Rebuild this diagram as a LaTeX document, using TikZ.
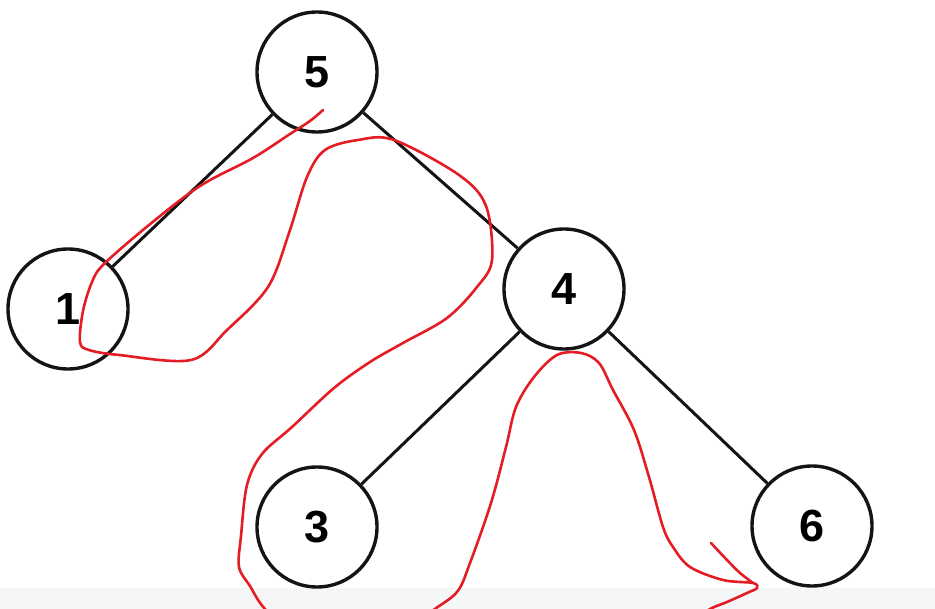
\documentclass[tikz,border=0pt]{standalone}
\usepackage{fontspec}
\setmainfont{Liberation Sans}
\usepackage{tikz}
\definecolor{clrInk}{RGB}{20,20,20}
\definecolor{clrPen}{RGB}{228,28,36}
\definecolor{clrStrip}{RGB}{245,246,248}

\begin{document}
\begin{tikzpicture}[
  x=1pt, y=-1pt,
  vertex/.style={
    circle, draw=clrInk, line width=3.4pt, fill=white,
    minimum size=120pt, inner sep=0pt,
    font=\fontsize{45}{48}\selectfont\bfseries
  },
  edge/.style={draw=clrInk, line width=3pt},
  pen/.style={clrPen, line width=2.6pt, line cap=round, line join=round}
]

\useasboundingbox (0,0) rectangle (935,609);
\clip (0,0) rectangle (935,609);
\fill[clrStrip] (0,588) rectangle (935,609);

% Tree
\node[vertex] (n5) at (317,72)  {5};
\node[vertex] (n1) at (68,309)  {1};
\node[vertex] (n4) at (564,289) {4};
\node[vertex] (n3) at (317,527) {3};
\node[vertex] (n6) at (812,526) {6};

\draw[edge] (n5) -- (n1);
\draw[edge] (n5) -- (n4);
\draw[edge] (n4) -- (n3);
\draw[edge] (n4) -- (n6);

% Traversal stroke
\draw[pen] plot[smooth, tension=0.55] coordinates {
  (323,110) (310,121) (290,134) (253,158) (200,186) (149,225)
  (104,264) (92,282) (83,311) (80,342) (89,350) (119,355) (191,360)
  (227,330) (268,287) (289,233) (307,177) (325,150) (358,140)
  (394,140) (459,175) (486,206) (492,260) (477,287) (447,318)
  (403,343) (370,362) (334,388) (292,427) (262,454) (247,485)
  (241,536) (239,567) (250,586) (265,609) (300,640) (400,640)
  (431,612) (457,592) (470,563) (491,503) (506,447) (516,407)
  (534,377) (557,355) (581,353) (599,363) (613,390) (634,430)
  (649,477) (663,527) (673,547) (690,567) (723,580) (753,583)
  (757,588) (747,593) (727,602) (712,608) (695,618)
};
\draw[pen] plot[smooth, tension=0.5] coordinates {
  (711,543) (727,560) (740,573) (753,583)
};

\end{tikzpicture}
\end{document}
